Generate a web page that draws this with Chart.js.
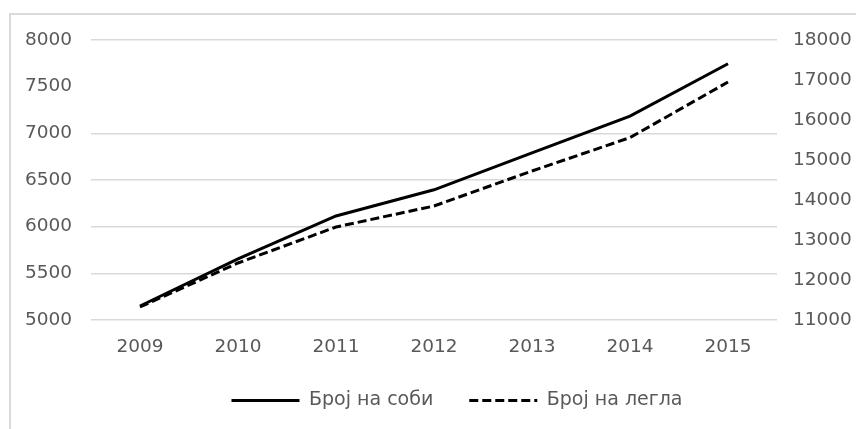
<!DOCTYPE html>
<html>
<head>
<meta charset="utf-8">
<script src="https://cdn.jsdelivr.net/npm/chart.js@4/dist/chart.umd.min.js"></script>
<style>
  html, body { margin: 0; padding: 0; background: #fff; overflow: hidden; }
  #frame { position: absolute; left: 9px; top: 13px; width: 900px; height: 500px; border: 2px solid #d9d9d9; box-sizing: border-box; }
  #wrap { position: absolute; left: 0; top: 0; width: 856px; height: 429px; }
</style>
</head>
<body>
<div id="frame"></div>
<div id="wrap"><canvas id="c" width="856" height="429"></canvas></div>
<script>
const categories = ['2009', '2010', '2011', '2012', '2013', '2014', '2015'];
const seriesNames = ['Број на соби', 'Број на легла'];
const rooms = [5150, 5655, 6115, 6395, 6790, 7185, 7745];
const beds = [11325, 12425, 13325, 13850, 14725, 15560, 16950];
const leftTicks = [5000, 5500, 6000, 6500, 7000, 7500, 8000];
const rightTicks = [11000, 12000, 13000, 14000, 15000, 16000, 17000, 18000];
const hiddenGridValue = 7500;

const FONT = 'DejaVu Sans';
const GREY = '#595959';
const dashes = [[], [9, 4]];
const gridColors = leftTicks.map(v => v === hiddenGridValue ? 'rgba(255,255,255,0)' : '#d9d9d9');

const legendShift = {
  id: 'legendShift',
  afterLayout(chart) {
    if (chart.legend) { chart.legend.left += 29; chart.legend.right += 29; }
  }
};

new Chart(document.getElementById('c'), {
  type: 'line',
  data: {
    labels: categories,
    datasets: [
      { label: seriesNames[0], data: rooms, yAxisID: 'y', borderColor: '#000', backgroundColor: '#000',
        borderWidth: 3, borderDash: dashes[0], pointRadius: 0, tension: 0, fill: false },
      { label: seriesNames[1], data: beds, yAxisID: 'y2', borderColor: '#000', backgroundColor: '#000',
        borderWidth: 3, borderDash: dashes[1], pointRadius: 0, tension: 0, fill: false }
    ]
  },
  plugins: [legendShift],
  options: {
    responsive: false,
    animation: false,
    devicePixelRatio: 1,
    layout: { padding: { top: 40, bottom: 9, left: 0, right: 0 } },
    plugins: {
      legend: {
        position: 'bottom',
        labels: {
          usePointStyle: true,
          pointStyle: 'line',
          pointStyleWidth: 68,
          boxHeight: 18,
          padding: 36,
          color: GREY,
          font: { family: FONT, size: 19 },
          generateLabels: chart => chart.data.datasets.map((ds, i) => ({
            text: ds.label,
            fillStyle: '#000',
            strokeStyle: '#000',
            lineWidth: 3,
            lineDash: dashes[i],
            pointStyle: 'line',
            fontColor: GREY,
            hidden: false,
            datasetIndex: i
          }))
        }
      },
      tooltip: { enabled: false }
    },
    scales: {
      x: {
        offset: true,
        grid: { display: false, drawTicks: false },
        border: { display: false },
        ticks: { color: GREY, font: { family: FONT, size: 18.5 }, padding: 16, maxRotation: 0 },
        afterFit: s => { s.height = 35; }
      },
      y: {
        position: 'left',
        min: leftTicks[0], max: leftTicks[leftTicks.length - 1],
        afterBuildTicks: s => { s.ticks = leftTicks.map(v => ({ value: v })); },
        grid: { drawTicks: false, lineWidth: 1.5, color: gridColors },
        border: { display: false },
        ticks: { color: GREY, font: { family: FONT, size: 18.5 }, padding: 19, callback: v => String(v) },
        afterFit: s => { s.width = 91; }
      },
      y2: {
        position: 'right',
        min: rightTicks[0], max: rightTicks[rightTicks.length - 1],
        afterBuildTicks: s => { s.ticks = rightTicks.map(v => ({ value: v })); },
        grid: { display: false, drawTicks: false },
        border: { display: false },
        ticks: { color: GREY, font: { family: FONT, size: 18.5 }, padding: 16, callback: v => String(v) },
        afterFit: s => { s.width = 79; }
      }
    }
  }
});
</script>
</body>
</html>
